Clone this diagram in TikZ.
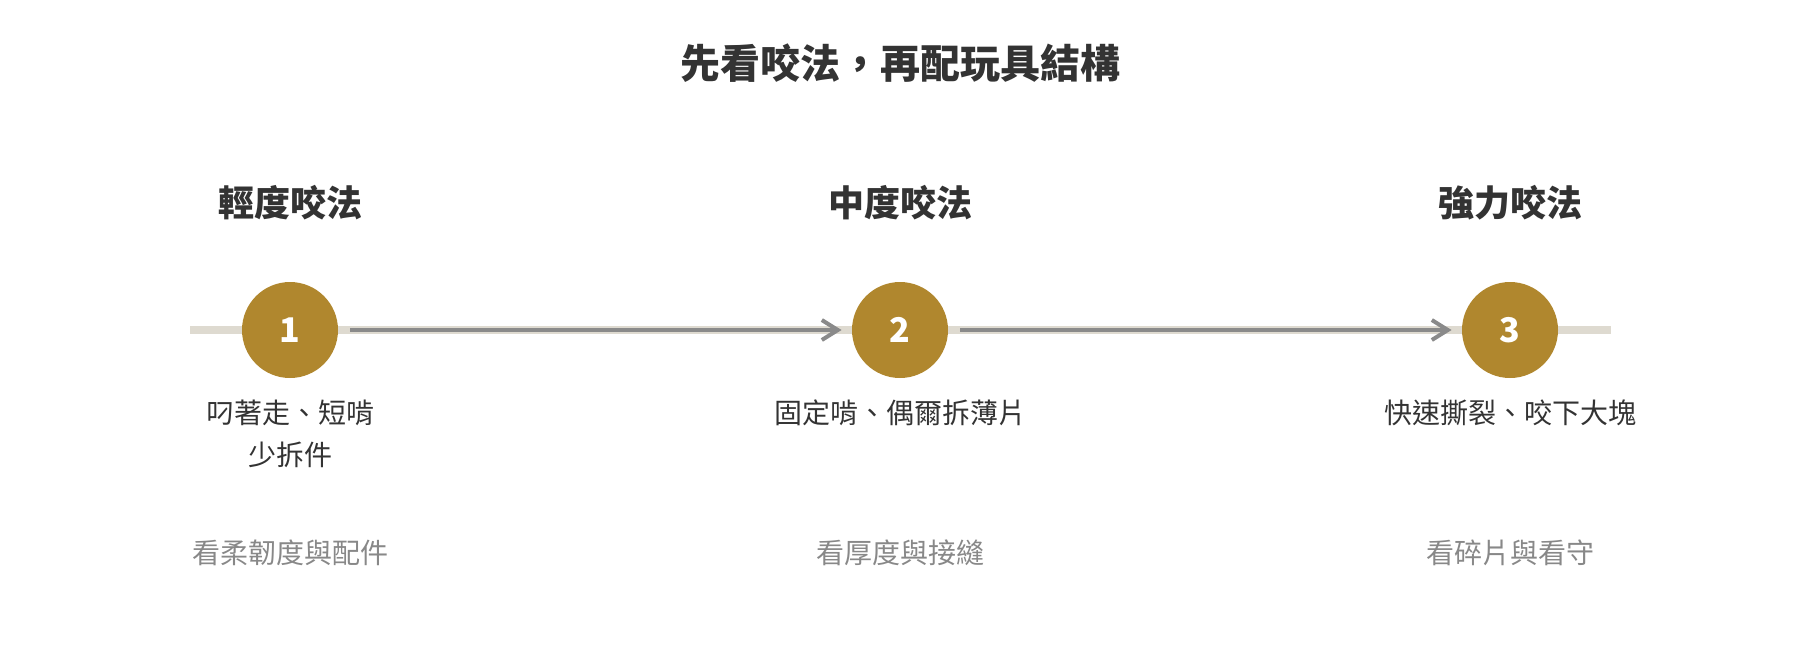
\documentclass[tikz,border=0pt]{standalone}
\usepackage{fontspec}
\setmainfont{Noto Sans CJK TC}
\usetikzlibrary{arrows.meta}
\definecolor{txt}{HTML}{333333}
\definecolor{gold}{HTML}{B0872E}
\definecolor{track}{HTML}{DEDAD0}
\definecolor{arr}{HTML}{8A8A8A}
\definecolor{sub}{HTML}{888888}
\tikzset{
  x=0.5pt, y=-0.5pt,
  titletext/.style={font=\fontsize{20pt}{24pt}\selectfont\bfseries, text=txt, inner sep=0pt},
  headtext/.style={font=\fontsize{18pt}{22pt}\selectfont\bfseries, text=txt, inner sep=0pt},
  desctext/.style={font=\fontsize{14pt}{21pt}\selectfont, text=txt, inner sep=0pt, align=center},
  subtext/.style={font=\fontsize{14pt}{18pt}\selectfont, text=sub, inner sep=0pt},
  stepcircle/.style={circle, fill=gold, minimum size=48pt, inner sep=0pt, text=white, font=\fontsize{17pt}{20pt}\selectfont\bfseries},
  flowarrow/.style={draw=arr, line width=2pt, -{Straight Barb[length=8pt,width=10pt,line width=2pt]}},
}
\begin{document}
\begin{tikzpicture}
\useasboundingbox (0,0) rectangle (1800,660);
\node[titletext] (title) at (900,63) {先看咬法，再配玩具結構};
\coordinate (tl) at (190,330);
\coordinate (tr) at (1611,330);
\draw[track, line width=4pt] (tl) -- (tr);
\node[stepcircle] (c1) at (290,330) {1};
\node[stepcircle] (c2) at (900,330) {2};
\node[stepcircle] (c3) at (1510,330) {3};
\draw[flowarrow] ([xshift=6pt]c1.east) -- ([xshift=-5pt]c2.west);
\draw[flowarrow] ([xshift=6pt]c2.east) -- ([xshift=-5pt]c3.west);
\node[headtext] (h1) at (290,203) {輕度咬法};
\node[headtext] (h2) at (900,203) {中度咬法};
\node[headtext] (h3) at (1510,203) {強力咬法};
\node[desctext] (d1) at (290,434) {叼著走、短啃\\少拆件};
\node[desctext] (d2) at (900,413) {固定啃、偶爾拆薄片};
\node[desctext] (d3) at (1510,413) {快速撕裂、咬下大塊};
\node[subtext] (s1) at (290,553) {看柔韌度與配件};
\node[subtext] (s2) at (900,553) {看厚度與接縫};
\node[subtext] (s3) at (1510,553) {看碎片與看守};
\end{tikzpicture}
\end{document}
